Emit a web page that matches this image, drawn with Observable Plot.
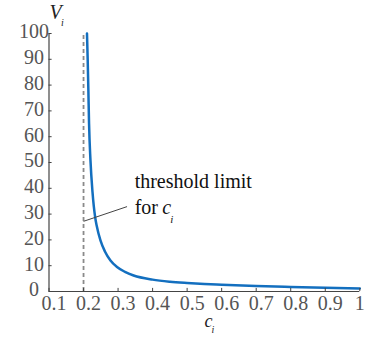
<!DOCTYPE html>
<html><head><meta charset="utf-8">
<script src="https://cdn.jsdelivr.net/npm/d3@7"></script>
<script src="https://cdn.jsdelivr.net/npm/@observablehq/plot@0.6"></script>
<style>
body{margin:0;background:#fff}
svg, svg text, svg g {font-family: "Liberation Serif", "DejaVu Serif", serif !important;}
</style>
</head><body><div id="chart"></div>
<script>
// curve values
const cValues = [0.210, 0.212, 0.214, 0.216, 0.220, 0.226, 0.234, 0.238, 0.249, 0.262, 0.278, 0.297, 0.320, 0.345, 0.40, 0.45, 0.50, 0.55, 0.60, 0.70, 0.80, 0.90, 1.00];
const vValues = [100, 90, 78, 65, 51, 38.5, 28.5, 25.6, 19.8, 15.5, 12, 9.5, 7.6, 6.2, 4.6, 3.8, 3.3, 2.9, 2.6, 2.1, 1.75, 1.45, 1.15];
const threshold = [0.2];
const xTickValues = [0.1, 0.2, 0.3, 0.4, 0.5, 0.6, 0.7, 0.8, 0.9];
const xTickLast = [1];
const yTickValues = [0, 10, 20, 30, 40, 50, 60, 70, 80, 90, 100];
const leader = [{x1: 0.2, y1: 27.2, x2: 0.326, y2: 32.9}];
const annotLine1 = [{x: 0.348, y: 40.0, text: "threshold limit"}];
const annotLine2 = [{x: 0.348, y: 30.1, text: "for"}];

const data = cValues.map((c, i) => ({c, V: vValues[i]}));
const font = "Liberation Serif";
const tickColor = "#555";
const axisColor = "#444";

const plot = Plot.plot({
  width: 367, height: 339,
  marginLeft: 48.5, marginRight: 7.7, marginTop: 33, marginBottom: 48,
  style: {background: "#fff", overflow: "visible"},
  x: {domain: [0.1, 1], label: null},
  y: {domain: [0, 100], label: null},
  marks: [
    Plot.ruleX(threshold, {y1: 0, y2: 100, stroke: "#8a8a8a", strokeWidth: 1.8, strokeDasharray: "4,3"}),
    Plot.line(data, {x: "c", y: "V", stroke: "#136fbf", strokeWidth: 2.5, curve: "monotone-x"}),
    Plot.link(leader, {x1: "x1", y1: "y1", x2: "x2", y2: "y2", stroke: axisColor, strokeWidth: 1}),
    // axis lines
    Plot.ruleY([0], {stroke: axisColor, strokeWidth: 1.2}),
    Plot.ruleX([0.1], {stroke: axisColor, strokeWidth: 1.2}),
    // inward ticks
    Plot.ruleX([...xTickValues, ...xTickLast], {y1: 0, y2: 1.2, stroke: axisColor}),
    Plot.ruleY(yTickValues, {x1: 0.1, x2: 0.109, stroke: axisColor}),
    Plot.axisX(xTickValues, {tickSize: 0, tickPadding: 4, fontSize: 20, fontFamily: font, color: tickColor, dx: 5, tickFormat: d => d.toFixed(1), label: null}),
    Plot.axisX(xTickLast, {tickSize: 0, tickPadding: 4, fontSize: 20, fontFamily: font, color: tickColor, tickFormat: d => String(d), label: null}),
    Plot.axisY(yTickValues, {tickSize: 0, tickPadding: 15, textAnchor: "middle", dy: -1.5, fontSize: 20, fontFamily: font, color: tickColor, label: null}),
    // axis titles
    Plot.text(["V"], {frameAnchor: "top-left", text: d => d, fontFamily: font, fontStyle: "italic", fontSize: 20, textAnchor: "start", lineAnchor: "bottom", dx: 0.5, dy: -14.7, fill: "#222"}),
    Plot.text(["i"], {frameAnchor: "top-left", text: d => d, fontFamily: font, fontStyle: "italic", fontSize: 10, textAnchor: "start", lineAnchor: "bottom", dx: 12, dy: -8, fill: "#222"}),
    Plot.text([{x: 0.55, y: 0}], {x: "x", y: "y", text: () => "c", fontFamily: font, fontStyle: "italic", fontSize: 18, textAnchor: "start", lineAnchor: "bottom", dy: 35.7, fill: "#222"}),
    Plot.text([{x: 0.55, y: 0}], {x: "x", y: "y", text: () => "i", fontFamily: font, fontStyle: "italic", fontSize: 10, textAnchor: "start", lineAnchor: "bottom", dx: 7, dy: 41.7, fill: "#222"}),
    // annotation
    Plot.text(annotLine1, {x: "x", y: "y", text: "text", fontFamily: font, fontSize: 20, textAnchor: "start", lineAnchor: "bottom", fill: "#111"}),
    Plot.text(annotLine2, {x: "x", y: "y", text: "text", fontFamily: font, fontSize: 20, textAnchor: "start", lineAnchor: "bottom", fill: "#111"}),
    Plot.text(annotLine2, {x: "x", y: "y", text: () => "c", fontFamily: font, fontStyle: "italic", fontSize: 20, textAnchor: "start", lineAnchor: "bottom", dx: 27.7, fill: "#111"}),
    Plot.text(annotLine2, {x: "x", y: "y", text: () => "i", fontFamily: font, fontStyle: "italic", fontSize: 11, textAnchor: "start", lineAnchor: "bottom", dx: 35.7, dy: 9.5, fill: "#111"})
  ]
});
document.getElementById("chart").appendChild(plot);
</script>
</body></html>
